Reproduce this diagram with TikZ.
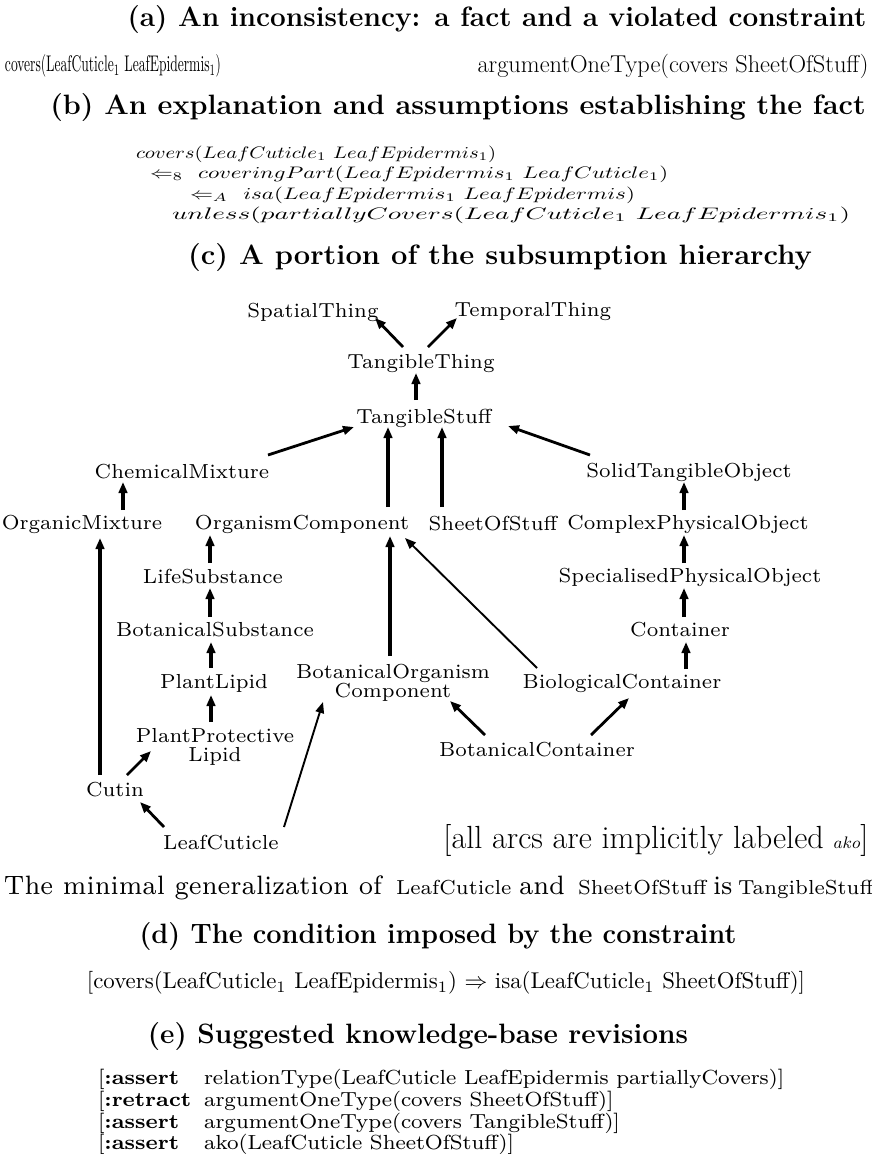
\documentclass[tikz,border=0pt]{standalone}
\usetikzlibrary{arrows.meta}
% class labels of the hierarchy
\newcommand{\hl}[1]{\scalebox{2.9}{\fontsize{7}{8}\selectfont #1}}
\newcommand{\hltwo}[2]{\scalebox{2.9}{\fontsize{7}{8}\selectfont\begin{tabular}{@{}c@{}}#1\\[-1.4pt]#2\end{tabular}}}
% section headings
\newcommand{\hd}[1]{{\fontsize{28}{32}\selectfont\bfseries #1}}
% revision rows
\newcommand{\rv}[1]{\scalebox{2.71}[2.55]{\fontsize{8}{9}\selectfont #1}}
% big words of the generalization sentence
\newcommand{\bw}[1]{\scalebox{3.6}[3.8]{\fontsize{7}{8}\selectfont #1}}
% one line of the explanation, stretched to a given width
\newcommand{\ex}[2]{\resizebox{#1}{12.5pt}{\fontsize{10}{12}\selectfont #2}}
\begin{document}
\begin{tikzpicture}[x=1pt,y=-1pt,
  txt/.style={inner sep=0pt, outer sep=0pt},
  cls/.style={inner sep=0pt, outer sep=0pt},
  tipshape/.style={-{Triangle[length=11pt,width=8.5pt]}},
  arrk/.style={tipshape, line width=4.2pt},
  arrm/.style={tipshape, line width=2.8pt},
  arrt/.style={tipshape, line width=1.9pt},
]
\useasboundingbox (0,0) rectangle (872,1154);

% (a)
\node[txt] (ta) at (497,20) {\hd{(a) An inconsistency: a fact and a violated constraint}};
\node[txt] (fact) at (113,66) {\resizebox{216pt}{17pt}{\fontsize{10}{12}\selectfont covers(LeafCuticle$_1$ LeafEpidermis$_1$)}};
\node[txt] (cons) at (673,66) {\resizebox{391pt}{!}{\fontsize{17.28}{20}\selectfont argumentOneType(covers SheetOfStuff)}};

% (b)
\node[txt] (tb) at (458,108) {\scalebox{1.03}[1]{\hd{(b) An explanation and assumptions establishing the fact}}};
\begin{scope}[every node/.style={txt, anchor=base west}]
\node (e1) at (136,158) {\ex{360pt}{$covers(LeafCuticle_1\ LeafEpidermis_1)$}};
\node (e2) at (150,178) {\ex{518pt}{$\Leftarrow_8$\ \ $coveringPart(LeafEpidermis_1\ LeafCuticle_1)$}};
\node (e3) at (190,199) {\ex{445pt}{$\Leftarrow_A$\ \ $isa(LeafEpidermis_1\ LeafEpidermis)$}};
\node (e4) at (172,219) {\ex{678pt}{$unless(partiallyCovers(LeafCuticle_1\ LeafEpidermis_1)$}};
\end{scope}

% (c)
\node[txt] (tc) at (500,258) {\scalebox{1.04}[1]{\hd{(c) A portion of the subsumption hierarchy}}};

\node[cls] (spatial)  at (313,312) {\hl{SpatialThing}};
\node[cls] (temporal) at (533,312) {\hl{TemporalThing}};
\node[cls] (tthing)   at (421,364) {\hl{TangibleThing}};
\node[cls] (tstuff)   at (424,418) {\hl{TangibleStuff}};
\node[cls] (chem)     at (182,472) {\hl{ChemicalMixture}};
\node[cls] (solid)    at (689,472) {\hl{SolidTangibleObject}};
\node[cls] (orgmix)   at (82,524)  {\hl{OrganicMixture}};
\node[cls] (orgcomp)  at (302,524) {\hl{OrganismComponent}};
\node[cls] (sheet)    at (493,524) {\hl{SheetOfStuff}};
\node[cls] (complex)  at (688,524) {\hl{ComplexPhysicalObject}};
\node[cls] (life)     at (213,577) {\hl{LifeSubstance}};
\node[cls] (spec)     at (690,577) {\hl{SpecialisedPhysicalObject}};
\node[cls] (botsub)   at (215,630) {\hl{BotanicalSubstance}};
\node[cls] (container) at (680,630) {\hl{Container}};
\node[cls] (plipid)   at (214,683) {\hl{PlantLipid}};
\node[cls] (botorg)   at (393,683) {\hltwo{BotanicalOrganism}{Component}};
\node[cls] (biocont)  at (622,683) {\hl{BiologicalContainer}};
\node[cls] (ppl)      at (215,747) {\hltwo{PlantProtective}{Lipid}};
\node[cls] (botcont)  at (537,750) {\hl{BotanicalContainer}};
\node[cls] (cutin)    at (115,790) {\hl{Cutin}};
\node[cls] (leafcut)  at (221,843) {\hl{LeafCuticle}};
\node[txt] (note) at (656,840) {\resizebox{425pt}{24pt}{\fontsize{17.28}{20}\selectfont [all arcs are implicitly labeled {\fontsize{9}{9}\selectfont$ako$}]}};

% ako arcs, drawn from the subclass to the superclass
\draw[arrm] ([shift={(-18,-17)}]tthing.center) -- ([shift={(62,6)}]spatial.center);
\draw[arrm] ([shift={(7,-17)}]tthing.center) -- ([shift={(-76,6)}]temporal.center);
\draw[arrk] ([shift={(-8,-18)}]tstuff.center) -- ([shift={(-5,9)}]tthing.center);
\draw[arrm] ([shift={(86,-17)}]chem.center) -- ([shift={(-70,9)}]tstuff.center);
\draw[arrk] ([shift={(86,-17)}]orgcomp.center) -- ([shift={(-36,9)}]tstuff.center);
\draw[arrk] ([shift={(-51,-17)}]sheet.center) -- ([shift={(18,9)}]tstuff.center);
\draw[arrm] ([shift={(-99,-17)}]solid.center) -- ([shift={(84,8)}]tstuff.center);
\draw[arrk] ([shift={(41,-14)}]orgmix.center) -- ([shift={(-59,10)}]chem.center);
\draw[arrk] ([shift={(-4,-14)}]complex.center) -- ([shift={(-5,10)}]solid.center);
\draw[arrk] ([shift={(-3,-14)}]life.center) -- ([shift={(-92,11)}]orgcomp.center);
\draw[arrk] ([shift={(-6,-14)}]spec.center) -- ([shift={(-4,11)}]complex.center);
\draw[arrk] ([shift={(-5,-13)}]botsub.center) -- ([shift={(-3,11)}]life.center);
\draw[arrk] ([shift={(4,-13)}]container.center) -- ([shift={(-6,11)}]spec.center);
\draw[arrk] ([shift={(-3,-15)}]plipid.center) -- ([shift={(-4,12)}]botsub.center);
\draw[arrk] ([shift={(64,-14)}]biocont.center) -- ([shift={(6,12)}]container.center);
\draw[arrk] ([shift={(-4,-25)}]ppl.center) -- ([shift={(-3,12)}]plipid.center);
\draw[arrk] ([shift={(-3,-27)}]botorg.center) -- ([shift={(88,12)}]orgcomp.center);
\draw[arrt] ([shift={(-85,-15)}]biocont.center) -- ([shift={(103,14)}]orgcomp.center);
\draw[arrk] ([shift={(-15,-15)}]cutin.center) -- ([shift={(18,14)}]orgmix.center);
\draw[arrm] ([shift={(12,-15)}]cutin.center) -- ([shift={(-64,4)}]ppl.center);
\draw[arrm] ([shift={(-57,-16)}]leafcut.center) -- ([shift={(25,12)}]cutin.center);
\draw[arrt] ([shift={(63,-16)}]leafcut.center) -- ([shift={(-70,19)}]botorg.center);
\draw[arrm] ([shift={(-52,-15)}]botcont.center) -- ([shift={(57,18)}]botorg.center);
\draw[arrm] ([shift={(54,-15)}]botcont.center) -- ([shift={(7,15)}]biocont.center);

% the minimal generalization
\begin{scope}[every node/.style={txt, anchor=base west}]
\node (g1) at (4,894) {\bw{The minimal generalization of}};
\node (g2) at (396,894) {\hl{LeafCuticle}};
\node (g3) at (519,894) {\bw{and}};
\node (g4) at (578,894) {\hl{SheetOfStuff}};
\node (g5) at (713,894) {\bw{is}};
\node (g6) at (738,894) {\hl{TangibleStuff}};
\end{scope}

% (d)
\node[txt] (td) at (438,937) {\scalebox{0.97}[1]{\hd{(d) The condition imposed by the constraint}}};
\node[txt] (cond) at (446,983) {\resizebox{718pt}{!}{\fontsize{10}{12}\selectfont [covers(LeafCuticle$_1$ LeafEpidermis$_1$) $\Rightarrow$ isa(LeafCuticle$_1$ SheetOfStuff)]}};

% (e)
\node[txt] (te) at (418,1037) {\hd{(e) Suggested knowledge-base revisions}};
\begin{scope}[every node/.style={txt, anchor=base west}]
\node (r1a) at (98,1084)  {\rv{[\textbf{:assert}}};
\node (r1b) at (204,1084) {\rv{relationType(LeafCuticle LeafEpidermis partiallyCovers)]}};
\node (r2a) at (98,1106)  {\rv{[\textbf{:retract}}};
\node (r2b) at (204,1106) {\rv{argumentOneType(covers SheetOfStuff)]}};
\node (r3a) at (98,1128)  {\rv{[\textbf{:assert}}};
\node (r3b) at (204,1128) {\rv{argumentOneType(covers TangibleStuff)]}};
\node (r4a) at (98,1149)  {\rv{[\textbf{:assert}}};
\node (r4b) at (204,1149) {\rv{ako(LeafCuticle SheetOfStuff)]}};
\end{scope}
\end{tikzpicture}
\end{document}
